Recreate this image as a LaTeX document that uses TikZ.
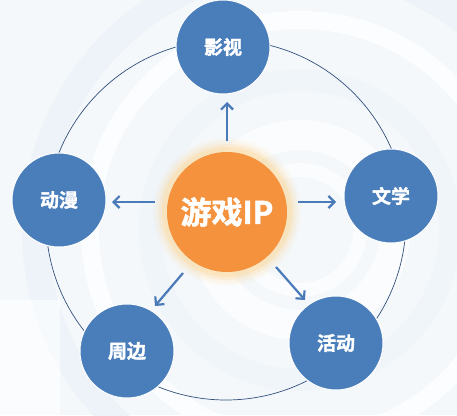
\documentclass[tikz,border=0pt]{standalone}
\usepackage{fontspec}
\newfontfamily\cjk{Noto Sans CJK SC Bold}[FakeBold=1.6]
\usetikzlibrary{arrows.meta}
\definecolor{nodeblue}{HTML}{4A7EBB}
\definecolor{arrowblue}{HTML}{4A7AB8}
\definecolor{ringline}{HTML}{34507E}
\definecolor{ipor}{HTML}{F5923E}
\definecolor{glow}{HTML}{FBD9A0}
\definecolor{bgdeco}{HTML}{E9F0F8}
\begin{document}
\begin{tikzpicture}[x=1pt,y=-1pt,
  satnode/.style={circle,fill=nodeblue,draw=white,line width=1pt,minimum size=94pt,inner sep=0pt,text=white,font=\cjk\fontsize{19}{19}\selectfont},
  hubnode/.style={circle,fill=ipor,minimum size=120pt,inner sep=0pt,text=white,font=\cjk\fontsize{31}{31}\selectfont},
  link/.style={draw=arrowblue,line width=2.2pt,-{Straight Barb[length=6pt,width=12pt,line width=2.2pt]}},
  ring/.style={draw=ringline,line width=0.7pt}]
\useasboundingbox (0,0) rectangle (457,415);
\fill[white] (0,0) rectangle (457,415);
% faint background decoration
\begin{scope}
\clip (0,0) rectangle (457,415);
\fill[bgdeco!50] (0,0) rectangle (457,415);
\draw[white,line width=30pt,opacity=0.7] (300,230) circle (95);
\draw[bgdeco!70,line width=22pt] (300,230) circle (150);
\draw[white,line width=18pt,opacity=0.8] (300,230) circle (210);
\draw[bgdeco!80,line width=26pt] (300,230) circle (265);
\draw[white,line width=14pt,opacity=0.6] (300,230) circle (60);
\fill[white,opacity=0.6] (0,300) rectangle (60,415);
\end{scope}
% outer ring
\coordinate (ctr) at (226,220);
\draw[ring] (ctr) circle (180);
% glow of hub
\foreach \r/\o in {74/0.08,71/0.15,68/0.25,65/0.4} {\fill[glow,opacity=\o] (227,212) circle (\r);}
\node[hubnode] (hub) at (227,212) {游戏IP};
\node[satnode] (ys) at (223,47) {影视};
\node[satnode] (dm) at (59,200) {动漫};
\node[satnode] (wx) at (391,196) {文学};
\node[satnode] (zb) at (127,351) {周边};
\node[satnode] (hd) at (336,343) {活动};
% arrows
\coordinate (a1s) at (227,141); \coordinate (a1e) at (227,102);
\coordinate (a2s) at (155,202); \coordinate (a2e) at (112,202);
\coordinate (a3s) at (298,202); \coordinate (a3e) at (336,202);
\coordinate (a4s) at (183,273); \coordinate (a4e) at (155,306);
\coordinate (a5s) at (276,267); \coordinate (a5e) at (305,300);
\draw[link] (a1s) -- (a1e);
\draw[link] (a2s) -- (a2e);
\draw[link] (a3s) -- (a3e);
\draw[link] (a4s) -- (a4e);
\draw[link] (a5s) -- (a5e);
\end{tikzpicture}
\end{document}
